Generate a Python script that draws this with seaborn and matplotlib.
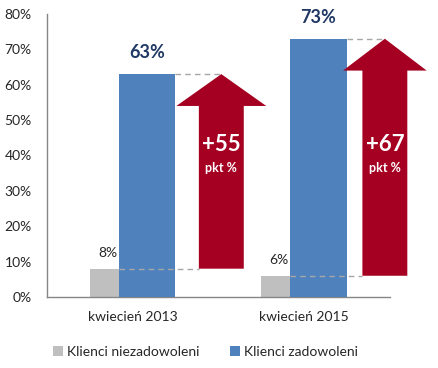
import matplotlib
matplotlib.use("Agg")
import matplotlib.pyplot as plt
import seaborn as sns
from matplotlib.patches import Patch, Polygon

# dane z wykresu
categories = ["kwiecień 2013", "kwiecień 2015"]
niezadowoleni = [8, 6]
zadowoleni = [63, 73]
series_names = ["Klienci niezadowoleni", "Klienci zadowoleni"]
y_ticks = [0, 10, 20, 30, 40, 50, 60, 70, 80]

GRAY = "#BFBFBF"
BLUE = "#4F81BD"
RED = "#A50021"
NAVY = "#1F3864"

sns.set_style("white")
plt.rcParams["font.family"] = ["Lato", "DejaVu Sans"]

fig = plt.figure(figsize=(4.39, 3.68), dpi=100)
ax = fig.add_axes([0.107, 0.193, 0.781, 0.769])

bar_w = 0.33
shift = 0.084

sns.barplot(x=categories, y=niezadowoleni, color=GRAY, width=bar_w,
            errorbar=None, linewidth=0, saturation=1, ax=ax, zorder=2)
for p in ax.containers[-1]:
    p.set_x(p.get_x() - shift)
sns.barplot(x=categories, y=zadowoleni, color=BLUE, width=bar_w,
            errorbar=None, linewidth=0, saturation=1, ax=ax, zorder=3)
for p in ax.containers[-1]:
    p.set_x(p.get_x() + shift)

# strzalki z przyrostem
arrow_off = [0.517, 0.471]
head_hw = [0.262, 0.244]
shaft_hw = 0.131
head_len = 9
for i, (lo, hi) in enumerate(zip(niezadowoleni, zadowoleni)):
    cx = i + arrow_off[i]
    pts = [(cx - shaft_hw, lo), (cx + shaft_hw, lo), (cx + shaft_hw, hi - head_len),
           (cx + head_hw[i], hi - head_len), (cx, hi), (cx - head_hw[i], hi - head_len),
           (cx - shaft_hw, hi - head_len)]
    ax.add_patch(Polygon(pts, closed=True, facecolor=RED, edgecolor="none", zorder=4, clip_on=False))
    # linie przerywane
    ax.plot([i + shift + bar_w / 2, cx], [hi, hi], ls=(0, (4, 3)), color="#A6A6A6", lw=1,
            zorder=5, clip_on=False)
    ax.plot([i + shift - bar_w / 2, cx - shaft_hw], [lo, lo], ls=(0, (4, 3)), color="#A6A6A6", lw=1,
            zorder=5, clip_on=False)
    ax.text(cx, 43, f"+{hi - lo}", ha="center", va="center", color="white",
            fontsize=16, fontweight="bold", zorder=6)
    ax.text(cx, 36.5, "pkt %", ha="center", va="center", color="white",
            fontsize=9, fontweight="bold", zorder=6)
    ax.text(i + shift, hi + 3.7, f"{hi}%", ha="center", va="bottom", color=NAVY,
            fontsize=13, fontweight="bold", zorder=6)
    ax.text(i - 0.145, lo + 2.8, f"{lo}%", ha="center", va="bottom", color="#262626",
            fontsize=10, zorder=6)

ax.set_xlim(-0.5, 1.5)
ax.set_ylim(0, 80)
ax.set_yticks(y_ticks)
ax.set_yticklabels([f"{t}%" for t in y_ticks])
ax.set_xticks([-0.5, 0.5, 1.5], minor=False)
ax.set_xticklabels([])
ax.set_xticks([0, 1], minor=True)
ax.set_xticklabels(categories, minor=True)
ax.tick_params(axis="x", which="minor", length=0, pad=10, labelsize=10, labelcolor="#262626")
ax.tick_params(axis="x", which="major", length=5, width=1, color="#868686", direction="out")
ax.tick_params(axis="y", length=5, width=1, color="#868686", direction="out", pad=6,
               labelsize=10, labelcolor="#262626")
ax.set_xlabel("")
ax.set_ylabel("")
for s in ["top", "right"]:
    ax.spines[s].set_visible(False)
for s in ["left", "bottom"]:
    ax.spines[s].set_color("#868686")
    ax.spines[s].set_linewidth(1)

handles = [Patch(facecolor=GRAY, edgecolor="none"), Patch(facecolor=BLUE, edgecolor="none")]
fig.legend(handles, series_names, loc="center", bbox_to_anchor=(0.469, 0.043), ncol=2,
           frameon=False, fontsize=10, handlelength=0.7, handleheight=0.7,
           handletextpad=0.3, columnspacing=2.2, labelcolor="#262626")

fig.savefig("out.png", dpi=100)
